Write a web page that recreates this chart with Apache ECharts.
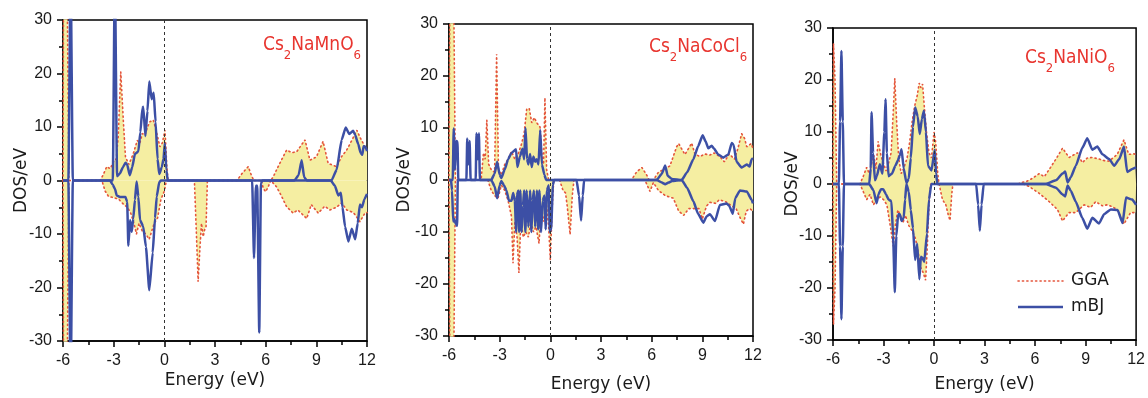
<!DOCTYPE html>
<html>
<head>
<meta charset="utf-8">
<script src="https://cdn.jsdelivr.net/npm/echarts@6/dist/echarts.min.js"></script>
<style>
html,body{margin:0;padding:0;background:#fff;}
#c{width:1148px;height:398px;}
</style>
</head>
<body>
<div id="c"></div>
<script>
// ---------- data: [energy (eV), DOS (states/eV)] ----------
const panelTitles = [['Cs','2','NaMnO','6'], ['Cs','2','NaCoCl','6'], ['Cs','2','NaNiO','6']];
const xTicks = {min: -6, max: 12, interval: 3};
const yTicks = {min: -30, max: 30, interval: 10};

// Cs2NaMnO6
const mnGgaUp = [[-6,0],[-5.97,35],[-5.75,35],[-5.65,0],[-3.8,0],[-3.6,1.2],[-3.41,2.6],[-3.2,2.2],[-3.02,3.5],[-2.85,4],[-2.73,8.2],[-2.58,20.3],[-2.43,11.3],[-2.3,4.4],[-2.1,3],[-1.84,5],[-1.6,7.5],[-1.45,7],[-1.3,8.8],[-1.15,8.5],[-1.0,10],[-0.85,11],[-0.65,11.3],[-0.5,9.5],[-0.26,6.3],[-0.12,7],[0.04,9.4],[0.14,3],[0.22,0],[4.3,0],[4.6,1.3],[4.97,2.6],[5.15,1],[5.3,0],[6.3,0],[6.45,0.7],[6.8,3],[7.24,5.7],[7.55,5.2],[7.84,5.4],[8.33,7.6],[8.62,3.8],[9.0,4.4],[9.4,7.3],[9.7,3.2],[10.2,2.6],[10.5,4.5],[10.8,5.7],[11.1,7.5],[11.4,9.4],[11.6,8],[11.88,6.3],[12,6]];
const mnGgaDown = [[-6,0],[-5.97,-35],[-5.75,-35],[-5.65,0],[-3.7,0],[-3.5,-2],[-3.3,-3],[-3.0,-3.2],[-2.7,-3.5],[-2.4,-4.5],[-2.2,-5],[-2.0,-6],[-1.8,-8],[-1.65,-10],[-1.5,-8],[-1.3,-9.5],[-1.1,-10],[-0.9,-11],[-0.8,-11.2],[-0.6,-8],[-0.4,-7],[-0.2,-3.5],[0,-2],[0.12,0],[1.78,0],[1.9,-10],[2.0,-18.9],[2.12,-12],[2.2,-8],[2.3,-10.5],[2.4,-9],[2.47,-8.6],[2.55,0],[5.75,0],[5.86,-1.5],[6.0,-2.1],[6.15,-1.2],[6.3,0],[6.65,-1.2],[6.95,-3],[7.24,-4.9],[7.63,-6.1],[7.9,-5.5],[8.43,-7.1],[8.7,-4.5],[9.11,-6.1],[9.5,-4.8],[9.8,-5.5],[10.2,-5],[10.5,-4.2],[10.8,-5.5],[11.2,-6],[11.58,-7.7],[11.88,-6.1],[12,-6]];
const mnMbjUp = [[-6,0],[-5.68,0],[-5.55,40],[-5.42,0],[-3.05,0],[-2.93,40],[-2.8,0.8],[-2.63,1.3],[-2.45,2.5],[-2.3,3.3],[-2.2,3],[-2.05,1],[-1.9,2.5],[-1.74,5],[-1.54,5.4],[-1.42,9],[-1.3,13.5],[-1.25,13.8],[-1.12,8.3],[-1.0,13],[-0.89,18.5],[-0.75,15.2],[-0.63,16.4],[-0.52,11],[-0.4,4],[-0.3,1.2],[-0.15,2.5],[-0.05,4],[0.03,7],[0.12,2],[0.2,0],[7.7,0],[7.95,1],[8.13,3.8],[8.28,0.6],[8.45,0],[9.9,0],[10.2,2],[10.5,7.6],[10.74,9.9],[10.95,8.7],[11.18,9.3],[11.3,8.5],[11.48,6.8],[11.62,5.2],[11.72,4.8],[11.8,6.4],[11.9,6.3],[12,5.5]];
const mnMbjDown = [[-6,0],[-5.68,0],[-5.55,-40],[-5.42,0],[-3.22,0],[-3.05,-0.8],[-2.92,-1.6],[-2.82,-2.8],[-2.6,-3.1],[-2.3,-3.1],[-2.2,-4],[-2.13,-12.2],[-2.03,-7.4],[-1.93,-9.6],[-1.84,-7.1],[-1.74,-3.6],[-1.64,-0.2],[-1.54,-3],[-1.44,-7.4],[-1.25,-8.6],[-1.09,-12.4],[-0.89,-20.5],[-0.69,-13.5],[-0.55,-7],[-0.45,-3],[-0.3,-0.3],[-0.2,0],[5.2,0],[5.31,-14.5],[5.42,-1],[5.5,-1],[5.62,-28.4],[5.72,-0.5],[5.8,0],[9.85,0],[10.1,-1],[10.3,-2.8],[10.45,-2.3],[10.55,-5],[10.7,-8.6],[10.9,-11.4],[11.1,-9],[11.3,-11],[11.45,-8],[11.58,-4.5],[11.7,-5],[11.85,-3.5],[12,-2.5]];

// Cs2NaCoCl6
const coGgaUp = [[-6,0],[-5.95,35],[-5.72,35],[-5.62,0],[-4.1,0],[-3.96,5.2],[-3.86,4],[-3.76,11.5],[-3.65,3],[-3.5,2],[-3.3,1.5],[-3.18,24.2],[-3.07,2],[-2.9,1],[-2.7,3],[-2.5,4],[-2.3,5.5],[-2.1,4],[-1.9,5],[-1.7,7],[-1.55,9],[-1.4,13.6],[-1.25,13.8],[-1.1,11],[-0.95,12],[-0.8,11],[-0.61,10.2],[-0.5,5],[-0.4,3],[-0.32,15.8],[-0.22,2],[-0.1,0],[4.8,0],[5.1,1.5],[5.42,2.4],[5.7,1],[5.85,0],[6.1,0],[6.4,1.5],[6.7,2],[7.08,2.7],[7.48,6.4],[7.6,7],[7.97,4.9],[8.37,7.1],[8.56,5],[8.86,4.5],[9.15,5],[9.45,4.8],[9.7,5.2],[10.04,4.5],[10.3,3.5],[10.6,5],[10.9,4],[11.1,6],[11.33,8.9],[11.5,8],[11.63,6.4],[11.9,7],[12,6]];
const coGgaDown = [[-6,0],[-5.95,-35],[-5.72,-35],[-5.62,0],[-3.7,0],[-3.5,-2],[-3.3,-3],[-3.1,-3.5],[-2.9,-1],[-2.7,-2],[-2.5,-4],[-2.3,-7],[-2.21,-16],[-2.1,-8],[-1.97,-11],[-1.86,-17.9],[-1.75,-8],[-1.6,-11],[-1.45,-10],[-1.3,-11],[-1.15,-8],[-1.0,-10],[-0.85,-9],[-0.67,-12.2],[-0.55,-6],[-0.4,-8],[-0.25,-4],[-0.1,-9],[0.0,-15.4],[0.1,-6],[0.2,0],[0.55,0],[0.75,-2],[0.9,-2.5],[1.0,-5],[1.17,-10.5],[1.3,-3],[1.4,0],[5.6,0],[5.9,-2.2],[6.1,-0.5],[6.4,-2],[6.8,-3],[7.28,-3.5],[7.6,-6],[7.9,-6.8],[8.2,-5.5],[8.47,-5.5],[8.8,-5.5],[9.0,-7.5],[9.25,-5],[9.45,-4.3],[9.8,-4.5],[10.0,-3.8],[10.4,-4.2],[10.74,-5],[11.0,-5.5],[11.2,-7],[11.43,-8.5],[11.6,-6],[11.8,-5.5],[12,-6]];
const coMbjUp = [[-6,0],[-5.78,0],[-5.72,9.9],[-5.65,2],[-5.58,7.5],[-5.5,7.4],[-5.45,0],[-4.97,0],[-4.92,8],[-4.86,3],[-4.78,7.5],[-4.72,0],[-4.42,0],[-4.37,9],[-4.3,4],[-4.23,9],[-4.17,0],[-3.5,0],[-3.3,1.2],[-3.15,3.5],[-3.0,1],[-2.9,0.4],[-2.7,2],[-2.5,4],[-2.3,5.2],[-2.03,5.9],[-1.95,2.5],[-1.8,4.5],[-1.65,6],[-1.55,4],[-1.47,10],[-1.38,4],[-1.3,3],[-1.2,5],[-1.1,2.5],[-1.0,4.5],[-0.9,3.5],[-0.8,4],[-0.7,3],[-0.6,9.6],[-0.5,3],[-0.35,1],[-0.25,0],[6.3,0],[6.6,1.2],[6.8,2.8],[6.95,0.8],[7.2,0.2],[7.78,0],[8.1,1.5],[8.47,4],[8.75,6.5],[9.02,8.6],[9.2,7.4],[9.35,6.1],[9.55,6.6],[9.7,6],[9.94,4.9],[10.24,4.3],[10.54,4.9],[10.74,7.1],[10.85,6.8],[11.03,3.5],[11.33,2.4],[11.63,3],[11.8,2.6],[11.92,4],[12,4.2]];
const coMbjDown = [[-6,0],[-5.88,0],[-5.82,-2],[-5.75,-8],[-5.68,-7.5],[-5.6,-8.5],[-5.52,-8.8],[-5.48,0],[-3.5,0],[-3.3,-1.2],[-3.15,-3.5],[-3.0,-1],[-2.9,-0.2],[-2.75,-1],[-2.6,-2],[-2.45,-4],[-2.3,-4],[-2.2,-2.5],[-2.1,-4],[-2.03,-10],[-1.98,-3],[-1.9,-2],[-1.85,-10],[-1.78,-2],[-1.7,-10],[-1.62,-5],[-1.55,-2],[-1.48,-10],[-1.4,-2],[-1.3,-9],[-1.2,-2],[-1.12,-10],[-1.05,-4],[-0.97,-2],[-0.9,-9],[-0.8,-2],[-0.72,-9.5],[-0.65,-2],[-0.55,-10],[-0.45,-4],[-0.35,-3],[-0.28,-9.5],[-0.2,-2],[-0.1,-1],[-0.03,-10],[0.05,-9.5],[0.15,-1],[0.22,0],[1.55,0],[1.7,-3],[1.82,-7.8],[1.92,-3],[2.0,0],[6.3,0],[6.6,-0.5],[6.8,-0.8],[7.0,-0.5],[7.2,-0.2],[7.78,0],[8.1,-1.5],[8.47,-4.1],[8.75,-6.5],[9.06,-8.2],[9.25,-7],[9.45,-6.6],[9.75,-7.9],[10.04,-4.8],[10.44,-4.5],[10.6,-5],[10.8,-6.5],[10.95,-3.5],[11.23,-2],[11.63,-2.2],[11.92,-3.8],[12,-4.5]];

// Cs2NaNiO6
const niGgaUp = [[-6,0],[-5.97,27],[-5.88,20],[-5.78,0],[-4.4,0],[-4.2,1.5],[-4.0,3.2],[-3.85,2],[-3.7,4],[-3.58,5.5],[-3.45,3],[-3.32,8.2],[-3.15,5.4],[-3.0,4],[-2.85,2.5],[-2.7,4],[-2.55,6],[-2.42,14],[-2.33,20.3],[-2.22,12],[-2.1,5],[-1.95,2],[-1.8,3],[-1.6,5],[-1.45,8],[-1.3,12],[-1.15,15],[-1.0,17],[-0.88,19.4],[-0.78,18.5],[-0.68,19.2],[-0.58,15],[-0.45,10],[-0.3,6],[-0.15,5],[0.0,10],[0.1,8],[0.22,2],[0.3,0],[5.0,0],[5.17,0.3],[5.5,0.5],[5.85,1.1],[6.25,2],[6.55,1.4],[6.92,3.2],[7.24,4.8],[7.63,6.9],[8.02,5.1],[8.52,6],[8.8,4.1],[9.1,5],[9.4,5.1],[9.8,4.8],[10.1,4.5],[10.4,4.4],[10.88,5.7],[11.28,8.5],[11.56,5.7],[11.9,5.8],[12,5.5]];
const niGgaDown = [[-6,0],[-5.97,-27],[-5.88,-20],[-5.78,0],[-4.4,0],[-4.2,-1.5],[-4.0,-3],[-3.8,-2],[-3.6,-4],[-3.4,-3],[-3.2,-2.5],[-3.0,-3],[-2.8,-4],[-2.6,-8],[-2.42,-12],[-2.3,-8],[-2.15,-5],[-2.0,-6],[-1.85,-7.5],[-1.7,-6],[-1.5,-8],[-1.3,-9],[-1.1,-10.5],[-0.95,-13],[-0.8,-16],[-0.65,-17],[-0.5,-18.5],[-0.4,-12],[-0.3,-4],[-0.2,0],[0.3,0],[0.5,-3],[0.7,-4],[0.85,-6],[0.95,-7],[1.05,-2],[1.12,0],[5.3,0],[5.65,-0.5],[6.25,-1.8],[6.84,-3.4],[7.33,-4.9],[7.63,-7.1],[8.02,-5.5],[8.42,-5.5],[8.91,-4],[9.3,-4.5],[9.6,-3.4],[10.0,-4.2],[10.29,-4],[10.6,-4.4],[10.88,-4.9],[11.28,-7.7],[11.67,-5.5],[11.96,-5.5],[12,-5.5]];
const niMbjUp = [[-6,0],[-5.65,0],[-5.58,12],[-5.5,25.6],[-5.42,12],[-5.35,0],[-3.85,0],[-3.76,3],[-3.71,13.8],[-3.62,6],[-3.51,0.7],[-3.4,1.5],[-3.22,3.8],[-3.07,2],[-2.95,10],[-2.88,16.3],[-2.8,6],[-2.7,1.5],[-2.5,2],[-2.3,3.5],[-2.15,4.5],[-2.03,5.5],[-1.93,6.7],[-1.8,3],[-1.64,0.2],[-1.5,1],[-1.38,5],[-1.25,11],[-1.12,14.7],[-0.97,13],[-0.85,9.6],[-0.72,12.5],[-0.6,14.1],[-0.48,10],[-0.36,3.5],[-0.15,2.6],[0.04,6.6],[0.12,2],[0.2,0],[6.64,0],[7.24,0.7],[7.63,2],[7.79,2.4],[7.93,0.3],[8.12,1.3],[8.42,3.5],[8.8,6.9],[9.1,8.8],[9.4,6.6],[9.7,7.2],[10.0,5.7],[10.4,4.8],[10.7,3.5],[11.0,4.8],[11.28,7.2],[11.47,2.3],[11.77,2.9],[12,3.2]];
const niMbjDown = [[-6,0],[-5.65,0],[-5.58,-12],[-5.5,-26],[-5.42,-12],[-5.35,0],[-3.85,0],[-3.6,-1.2],[-3.41,-3.7],[-3.3,-2],[-3.15,-1],[-3.02,-1],[-2.85,-2],[-2.7,-3],[-2.53,-3.3],[-2.43,-10],[-2.33,-20.8],[-2.24,-10],[-2.13,-5.8],[-2.03,-5.8],[-1.93,-7.1],[-1.8,-6.5],[-1.72,-3],[-1.64,0],[-1.5,-1.5],[-1.38,-5],[-1.25,-8.5],[-1.12,-14.6],[-1.0,-11.5],[-0.87,-18.3],[-0.78,-14],[-0.69,-14.2],[-0.58,-15],[-0.42,-9.5],[-0.3,-3],[-0.16,0],[2.5,0],[2.62,-4],[2.72,-9],[2.82,-4],[2.95,0],[6.64,0],[7.24,-0.7],[7.63,-2],[7.79,-2.4],[7.93,-0.3],[8.12,-1.3],[8.42,-3.4],[8.8,-6.5],[9.1,-8.6],[9.4,-6.5],[9.8,-7.6],[10.1,-5.8],[10.5,-4.9],[10.9,-5],[11.2,-7.5],[11.4,-2.6],[11.77,-3],[12,-4]];

const gga = [[mnGgaUp, mnGgaDown], [coGgaUp, coGgaDown], [niGgaUp, niGgaDown]];
const mbj = [[mnMbjUp, mnMbjDown], [coMbjUp, coMbjDown], [niMbjUp, niMbjDown]];

// ---------- styles ----------
const BLUE = '#3c4fa5';
const RED = '#e4543b';
const YELLOW = '#f5eea2';
const gridPos = [
  {left: 63, top: 20, width: 304, height: 321, xGap: 31, yGap: 33},
  {left: 449, top: 24, width: 304, height: 321, xGap: 40, yGap: 36},
  {left: 833, top: 28, width: 304, height: 321, xGap: 36, yGap: 32}
];
const titlePos = [{x: 263, y: 36}, {x: 649, y: 38}, {x: 1025, y: 49}];
const TITLE_FONT = "'DejaVu Sans Condensed', 'Liberation Sans', sans-serif";

const grids = [], xAxes = [], yAxes = [], series = [], graphics = [];
const tickStyle = {color: '#000', width: 1.5};
gridPos.forEach((g, i) => {
  grids.push({left: g.left, top: g.top, width: g.width, height: g.height,
    show: true, borderColor: '#000', borderWidth: 1.5, backgroundColor: 'transparent', containLabel: false});
  xAxes.push({type: 'value', gridIndex: i, min: xTicks.min, max: xTicks.max, interval: xTicks.interval,
    name: 'Energy (eV)', nameLocation: 'middle', nameGap: g.xGap, nameMoveOverlap: false,
    nameTextStyle: {fontFamily: 'DejaVu Sans', fontSize: 17, color: '#1a1a1a', verticalAlign: 'top'},
    axisLine: {lineStyle: {color: '#000', width: 1.5}, onZero: false},
    axisTick: {inside: false, length: 6, lineStyle: tickStyle},
    minorTick: {show: true, splitNumber: 2, length: 4, lineStyle: tickStyle},
    axisLabel: {fontFamily: 'Liberation Sans', fontSize: 16, color: '#1a1a1a', margin: 12},
    splitLine: {show: false}, minorSplitLine: {show: false}});
  yAxes.push({type: 'value', gridIndex: i, min: yTicks.min, max: yTicks.max, interval: yTicks.interval,
    name: 'DOS/eV', nameLocation: 'middle', nameGap: g.yGap, nameRotate: 90, nameMoveOverlap: false,
    nameTextStyle: {fontFamily: 'DejaVu Sans', fontSize: 17, color: '#1a1a1a'},
    axisLine: {lineStyle: {color: '#000', width: 1.5}, onZero: false},
    axisTick: {inside: false, length: 6, lineStyle: tickStyle},
    minorTick: {show: true, splitNumber: 2, length: 4, lineStyle: tickStyle},
    axisLabel: {fontFamily: 'Liberation Sans', fontSize: 16, color: '#1a1a1a', margin: 11},
    splitLine: {show: false}, minorSplitLine: {show: false}});
  gga[i].forEach((d, k) => {
    const s = {type: 'line', xAxisIndex: i, yAxisIndex: i, data: d, symbol: 'none', clip: true,
      name: 'GGA', z: 2,
      lineStyle: {color: RED, width: 1.6, type: [1.2, 3.2], cap: 'round'},
      areaStyle: {color: YELLOW, opacity: 1, origin: 0}};
    if (k === 0) {
      s.markLine = {silent: true, symbol: 'none', label: {show: false},
        lineStyle: {type: [3, 3], color: '#333', width: 1},
        data: [{xAxis: 0}]};
    }
    series.push(s);
  });
  mbj[i].forEach(d => {
    series.push({type: 'line', xAxisIndex: i, yAxisIndex: i, data: d, symbol: 'none', clip: true,
      name: 'mBJ', z: 4, smooth: 0.15, smoothMonotone: 'x',
      lineStyle: {color: BLUE, width: 2.5, join: 'round'}});
  });
  const t = panelTitles[i];
  graphics.push({type: 'text', left: titlePos[i].x, top: titlePos[i].y, z: 10,
    style: {text: '{a|' + t[0] + '}{b|' + t[1] + '}{a|' + t[2] + '}{b|' + t[3] + '}',
      rich: {
        a: {fontFamily: TITLE_FONT, fontSize: 19, fill: '#e8352f', lineHeight: 20, verticalAlign: 'top'},
        b: {fontFamily: TITLE_FONT, fontSize: 13, fill: '#e8352f', lineHeight: 13, padding: [13, 0, 0, 0], verticalAlign: 'top'}
      }}});
});

// legend (third panel)
graphics.push({type: 'line', shape: {x1: 1018, y1: 281, x2: 1063, y2: 281}, z: 10,
  style: {stroke: RED, lineWidth: 1.6, lineDash: [1.2, 3.2], lineCap: 'round'}});
graphics.push({type: 'text', left: 1071, top: 272, z: 10,
  style: {text: 'GGA', fontFamily: 'DejaVu Sans', fontSize: 17, fill: '#1a1a1a'}});
graphics.push({type: 'line', shape: {x1: 1018, y1: 307, x2: 1063, y2: 307}, z: 10,
  style: {stroke: BLUE, lineWidth: 2.5}});
graphics.push({type: 'text', left: 1071, top: 298, z: 10,
  style: {text: 'mBJ', fontFamily: 'DejaVu Sans', fontSize: 17, fill: '#1a1a1a'}});

const chart = echarts.init(document.getElementById('c'), null, {renderer: 'canvas'});
chart.setOption({
  animation: false,
  backgroundColor: '#fff',
  grid: grids, xAxis: xAxes, yAxis: yAxes, series: series, graphic: graphics
});
</script>
</body>
</html>
